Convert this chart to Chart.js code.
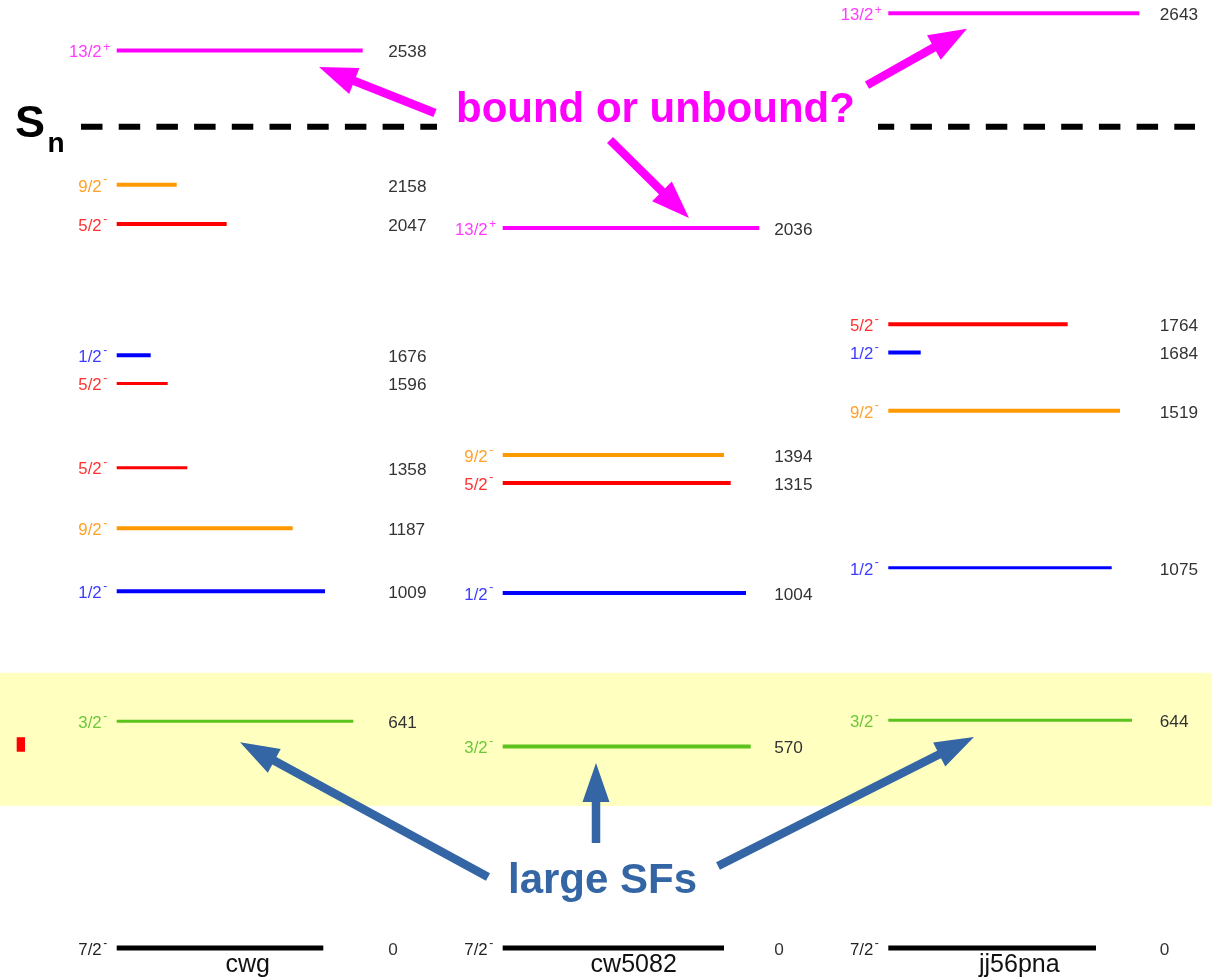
<!DOCTYPE html>
<html>
<head>
<meta charset="utf-8">
<title>Level schemes: cwg / cw5082 / jj56pna</title>
<script src="https://cdn.jsdelivr.net/npm/chart.js@4.4.1/dist/chart.umd.min.js"></script>
<style>
  html, body { margin: 0; padding: 0; background: #ffffff; }
  #wrap { width: 1212px; height: 978px; }
</style>
</head>
<body>
<div id="wrap"><canvas id="levels" width="1212" height="978"></canvas></div>
<script>
// ---- Calculated level schemes: excitation energy (keV), J^pi, strength (line length) ----
const calcNames = ['cwg', 'cw5082', 'jj56pna'];

const cwgEnergy   = [0, 641, 1009, 1187, 1358, 1596, 1676, 2047, 2158, 2538];
const cwgSpin     = ['7/2-', '3/2-', '1/2-', '9/2-', '5/2-', '5/2-', '1/2-', '5/2-', '9/2-', '13/2+'];
const cwgStrength = [206.6, 236.6, 208.3, 176, 70.6, 51, 34, 110, 60, 246];

const cw5082Energy   = [0, 570, 1004, 1315, 1394, 2036];
const cw5082Spin     = ['7/2-', '3/2-', '1/2-', '5/2-', '9/2-', '13/2+'];
const cw5082Strength = [221.3, 248, 243.3, 228, 221.3, 256.6];

const jj56pnaEnergy   = [0, 644, 1075, 1519, 1684, 1764, 2643];
const jj56pnaSpin     = ['7/2-', '3/2-', '1/2-', '9/2-', '1/2-', '5/2-', '13/2+'];
const jj56pnaStrength = [207.7, 243.7, 223.4, 231.7, 32.4, 179.4, 251];

// neutron separation energy (keV)
const separationEnergy = 2322;

// ---- layout / style ----
const columns = [
  { name: calcNames[0], start: 116.7, energy: cwgEnergy,     spin: cwgSpin,     strength: cwgStrength },
  { name: calcNames[1], start: 502.7, energy: cw5082Energy,  spin: cw5082Spin,  strength: cw5082Strength },
  { name: calcNames[2], start: 888.3, energy: jj56pnaEnergy, spin: jj56pnaSpin, strength: jj56pnaStrength }
];
const energyLabelOffset = 272;
const nameOffset = 131;

const spinLineColor = {
  '7/2-': '#000000', '3/2-': '#5cc21c', '1/2-': '#0000ff',
  '9/2-': '#ff9900', '5/2-': '#ff0000', '13/2+': '#ff00ff'
};
const spinTextColor = {
  '7/2-': '#222222', '3/2-': '#6cc83a', '1/2-': '#3b3bff',
  '9/2-': '#ffa028', '5/2-': '#ff3030', '13/2+': '#ff3cff'
};
const thinLevels = new Set(['cwg:641', 'cwg:1358', 'cwg:1596', 'jj56pna:644', 'jj56pna:1075']);

const FONT = '"Liberation Sans", Arial, Helvetica, sans-serif';
const MAGENTA = '#ff00ff';
const SF_BLUE = '#3465a4';

// highlighted region and annotation arrows (x units, keV)
const highlightBand = [402, 778];
const boundArrows = [
  { from: [435, 2361], to: [319, 2491] },
  { from: [610, 2285], to: [689, 2064] },
  { from: [867, 2440], to: [967, 2599] }
];
const sfArrows = [
  { from: [488, 201], to: [240, 582] },
  { from: [596, 297], to: [596, 523] },
  { from: [718, 232], to: [974, 597] }
];

// ---- datasets: one horizontal segment per level ----
const datasets = [];
columns.forEach(col => {
  col.energy.forEach((e, i) => {
    const key = col.name + ':' + e;
    datasets.push({
      data: [{ x: col.start, y: e }, { x: col.start + col.strength[i], y: e }],
      borderColor: spinLineColor[col.spin[i]],
      borderWidth: e === 0 ? 5 : (thinLevels.has(key) ? 3 : 4),
      borderCapStyle: 'butt',
      pointRadius: 0,
      fill: false,
      tension: 0
    });
  });
});
// S_n threshold
datasets.push({
  data: [{ x: 81, y: separationEnergy }, { x: 1195, y: separationEnergy }],
  borderColor: '#000000',
  borderWidth: 6,
  borderDash: [21.5, 16.2],
  borderCapStyle: 'butt',
  pointRadius: 0,
  fill: false
});

function drawArrow(ctx, x1, y1, x2, y2, color, shaft, headLen, headW) {
  const dx = x2 - x1, dy = y2 - y1;
  const len = Math.hypot(dx, dy);
  const ux = dx / len, uy = dy / len;
  const bx = x2 - ux * headLen, by = y2 - uy * headLen;
  ctx.save();
  ctx.strokeStyle = color;
  ctx.fillStyle = color;
  ctx.lineWidth = shaft;
  ctx.lineCap = 'butt';
  ctx.beginPath();
  ctx.moveTo(x1, y1);
  ctx.lineTo(bx + ux * 2, by + uy * 2);
  ctx.stroke();
  ctx.beginPath();
  ctx.moveTo(x2, y2);
  ctx.lineTo(bx - uy * headW / 2, by + ux * headW / 2);
  ctx.lineTo(bx + uy * headW / 2, by - ux * headW / 2);
  ctx.closePath();
  ctx.fill();
  ctx.restore();
}

const schemePlugin = {
  id: 'schemeDecor',
  beforeDatasetsDraw(chart) {
    const { ctx, scales: { x, y } } = chart;
    ctx.save();
    // highlighted band
    const top = y.getPixelForValue(highlightBand[1]);
    const bot = y.getPixelForValue(highlightBand[0]);
    ctx.fillStyle = '#ffffc0';
    ctx.fillRect(0, top, chart.width, bot - top);
    // small red marker
    const mTop = y.getPixelForValue(596), mBot = y.getPixelForValue(555);
    ctx.fillStyle = '#ff0000';
    ctx.fillRect(x.getPixelForValue(16.7), mTop, x.getPixelForValue(25) - x.getPixelForValue(16.7), mBot - mTop);
    ctx.restore();
  },
  afterDatasetsDraw(chart) {
    const { ctx, scales: { x, y } } = chart;
    ctx.save();

    // level labels
    columns.forEach(col => {
      col.energy.forEach((e, i) => {
        const py = y.getPixelForValue(e);
        const sx = x.getPixelForValue(col.start);
        const spin = col.spin[i];
        const main = spin.slice(0, -1);
        const sign = spin.slice(-1);
        ctx.fillStyle = spinTextColor[spin];
        ctx.textBaseline = 'alphabetic';
        ctx.font = '16.8px ' + FONT;
        ctx.textAlign = 'right';
        ctx.fillText(main, sx - 15, py + 6.7);
        ctx.font = '12px ' + FONT;
        ctx.textAlign = 'left';
        ctx.fillText(sign, sx - 13.5, sign === '+' ? py + 0.5 : py - 1.5);
        // energy value
        ctx.fillStyle = '#333333';
        ctx.font = '17.2px ' + FONT;
        ctx.fillText(String(e), x.getPixelForValue(col.start + energyLabelOffset) - 0.5, py + 6.9);
      });
      // calculation name
      ctx.fillStyle = '#111111';
      ctx.font = '25px ' + FONT;
      ctx.textAlign = 'center';
      ctx.fillText(col.name, x.getPixelForValue(col.start + nameOffset), 972);
    });

    // S_n label
    ctx.fillStyle = '#000000';
    ctx.textAlign = 'left';
    ctx.font = 'bold 45px ' + FONT;
    const snY = y.getPixelForValue(separationEnergy);
    ctx.fillText('S', 15, snY + 10.5);
    ctx.font = 'bold 28px ' + FONT;
    ctx.fillText('n', 47.5, snY + 25.5);

    // caption box over the threshold line
    ctx.fillStyle = '#ffffff';
    ctx.fillRect(x.getPixelForValue(437), snY - 30, x.getPixelForValue(878) - x.getPixelForValue(437), 40);
    ctx.fillStyle = MAGENTA;
    ctx.font = 'bold 42px ' + FONT;
    ctx.fillText('bound or unbound?', x.getPixelForValue(456), snY - 4.5);

    ctx.fillStyle = SF_BLUE;
    ctx.fillText('large SFs', x.getPixelForValue(508), y.getPixelForValue(155));

    boundArrows.forEach(a => drawArrow(ctx,
      x.getPixelForValue(a.from[0]), y.getPixelForValue(a.from[1]),
      x.getPixelForValue(a.to[0]), y.getPixelForValue(a.to[1]), MAGENTA, 8.5, 38, 28));
    sfArrows.forEach(a => drawArrow(ctx,
      x.getPixelForValue(a.from[0]), y.getPixelForValue(a.from[1]),
      x.getPixelForValue(a.to[0]), y.getPixelForValue(a.to[1]), SF_BLUE, 8.5, 39, 27));

    ctx.restore();
  }
};

new Chart(document.getElementById('levels'), {
  type: 'line',
  data: { datasets },
  options: {
    responsive: false,
    animation: false,
    devicePixelRatio: 1,
    layout: { padding: 0 },
    events: [],
    plugins: { legend: { display: false }, tooltip: { enabled: false }, title: { display: false } },
    scales: {
      x: { type: 'linear', min: 0, max: 1212, display: false },
      y: { type: 'linear', min: -84.8, max: 2680.6, display: false }
    }
  },
  plugins: [schemePlugin]
});
</script>
</body>
</html>
